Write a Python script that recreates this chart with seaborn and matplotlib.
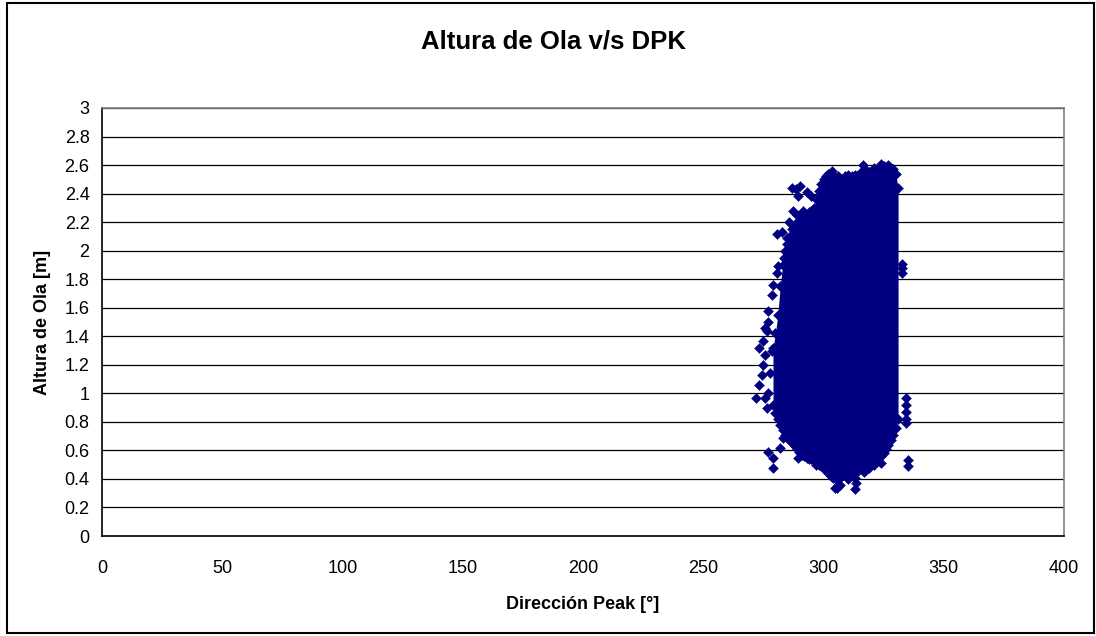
import matplotlib
matplotlib.use("Agg")
import matplotlib.pyplot as plt
from matplotlib.patches import Rectangle
import pandas as pd
import seaborn as sns

# Dense core of the cloud: for each peak direction, lowest and highest wave height
core_dir = [279, 280, 281, 282, 283, 284, 285, 286, 287, 288, 289, 290, 291, 292,
            293, 294, 295, 296, 297, 298, 299, 300, 301, 302, 303, 304, 305, 306,
            307, 308, 309, 310, 311, 312, 313, 314, 315, 316, 317, 318, 319, 320,
            321, 322, 323, 324, 325, 326, 327, 328, 329, 330, 331]
core_low = [0.92, 0.86, 0.82, 0.78, 0.74, 0.71, 0.69, 0.67, 0.65, 0.63, 0.61, 0.59,
            0.57, 0.56, 0.55, 0.54, 0.54, 0.53, 0.52, 0.50, 0.49, 0.47, 0.46, 0.44,
            0.42, 0.41, 0.40, 0.40, 0.41, 0.43, 0.44, 0.45, 0.45, 0.43, 0.41, 0.45,
            0.48, 0.50, 0.51, 0.51, 0.52, 0.53, 0.53, 0.54, 0.55, 0.56, 0.58, 0.61,
            0.64, 0.67, 0.71, 0.76, 0.82]
core_high = [1.32, 1.42, 1.55, 1.75, 1.90, 2.00, 2.05, 2.10, 2.15, 2.18, 2.20, 2.24,
             2.24, 2.22, 2.25, 2.27, 2.28, 2.30, 2.36, 2.42, 2.47, 2.50, 2.52, 2.54,
             2.53, 2.52, 2.51, 2.52, 2.51, 2.50, 2.52, 2.53, 2.51, 2.52, 2.53, 2.52,
             2.54, 2.56, 2.55, 2.56, 2.55, 2.55, 2.56, 2.54, 2.57, 2.59, 2.59, 2.58,
             2.59, 2.58, 2.57, 2.54, 2.44]

# Isolated readings around the core
edge_dir = [272.0, 273.0, 273.0, 274.4, 275.0, 275.0, 275.7, 275.7, 276.5, 275.7,
            277.0, 277.0, 278.6, 279.0, 280.7, 281.0, 277.8, 278.6, 277.0, 276.5,
            277.0, 279.0, 279.0, 282.0, 283.0, 288.0, 289.5, 297.0, 302.7, 304.8,
            306.0, 292.0, 285.0,
            280.7, 282.7, 284.8, 287.3, 286.9, 288.5, 290.2, 293.0, 289.4, 295.0,
            291.5, 289.0, 285.5, 283.5,
            305.6, 307.0, 313.0, 313.5, 319.0, 324.0, 317.0, 310.0, 321.0,
            334.3, 334.3, 334.3, 334.3, 334.3, 335.0, 335.0, 332.6, 332.6, 332.6,
            316.4, 324.0, 327.0, 321.0, 303.5]
edge_height = [0.97, 1.06, 1.32, 1.13, 1.20, 1.37, 1.27, 0.97, 1.44, 1.46,
               1.50, 1.58, 1.69, 1.76, 1.84, 1.89, 1.14, 1.30, 1.00, 0.90,
               0.59, 0.55, 0.48, 0.62, 0.69, 0.64, 0.55, 0.50, 0.43, 0.34,
               0.36, 0.58, 0.72,
               2.12, 2.13, 2.09, 2.28, 2.44, 2.43, 2.45, 2.41, 2.38, 2.38,
               2.28, 2.25, 2.20, 1.95,
               0.34, 0.36, 0.33, 0.37, 0.48, 0.51, 0.45, 0.40, 0.50,
               0.97, 0.92, 0.87, 0.82, 0.79, 0.53, 0.49, 1.84, 1.88, 1.91,
               2.60, 2.61, 2.60, 2.58, 2.56]

x_ticks = [0, 50, 100, 150, 200, 250, 300, 350, 400]
y_ticks = [0, 0.2, 0.4, 0.6, 0.8, 1.0, 1.2, 1.4, 1.6, 1.8, 2.0, 2.2, 2.4, 2.6, 2.8, 3.0]
y_tick_labels = ["0", "0.2", "0.4", "0.6", "0.8", "1", "1.2", "1.4", "1.6", "1.8",
                 "2", "2.2", "2.4", "2.6", "2.8", "3"]

NAVY = "#000080"

sns.set_style("white")
plt.rcParams["font.family"] = ["Liberation Sans", "DejaVu Sans"]
plt.rcParams.update({"text.color": "black", "axes.labelcolor": "black",
                     "xtick.color": "black", "ytick.color": "black"})

fig = plt.figure(figsize=(10.96, 6.36), dpi=100)
ax = fig.add_axes([0.0931, 0.1572, 0.8777, 0.6730])

# Solid body of overlapping points
ax.fill_between(core_dir, core_low, core_high, color=NAVY, linewidth=0, zorder=2)

points = pd.DataFrame({
    "dir": core_dir + core_dir + edge_dir,
    "height": core_low + core_high + edge_height,
})
sns.scatterplot(data=points, x="dir", y="height", ax=ax, marker="D", s=26,
                color=NAVY, edgecolor=NAVY, linewidth=0.3, zorder=3, legend=False)

ax.set_xlim(0, 400)
ax.set_ylim(0, 3)
ax.set_xticks(x_ticks)
ax.set_xticklabels([str(t) for t in x_ticks])
ax.set_yticks(y_ticks)
ax.set_yticklabels(y_tick_labels)
ax.tick_params(axis="both", which="major", labelsize=13, length=5, width=1,
               direction="out", color="black", pad=4)
ax.tick_params(axis="x", pad=12)

ax.yaxis.grid(True, color="black", linewidth=0.9)
ax.xaxis.grid(False)
ax.set_axisbelow(True)

for side in ("left", "bottom"):
    ax.spines[side].set_color("black")
    ax.spines[side].set_linewidth(1.2)
for side in ("top", "right"):
    ax.spines[side].set_color("#808080")
    ax.spines[side].set_linewidth(1.2)

ax.set_xlabel("Dirección Peak [°]", fontsize=13, fontweight="bold", labelpad=14)
ax.set_ylabel("Altura de Ola [m]", fontsize=13, fontweight="bold", labelpad=10)

fig.text(0.5046, 0.934, "Altura de Ola v/s DPK", ha="center", va="center",
         fontsize=18.5, fontweight="bold")

# Chart frame
fig.patches.append(Rectangle((0.0065, 0.004), 0.9915, 0.991, transform=fig.transFigure,
                             fill=False, edgecolor="black", linewidth=1.5))

fig.savefig("out.png", dpi=100)
